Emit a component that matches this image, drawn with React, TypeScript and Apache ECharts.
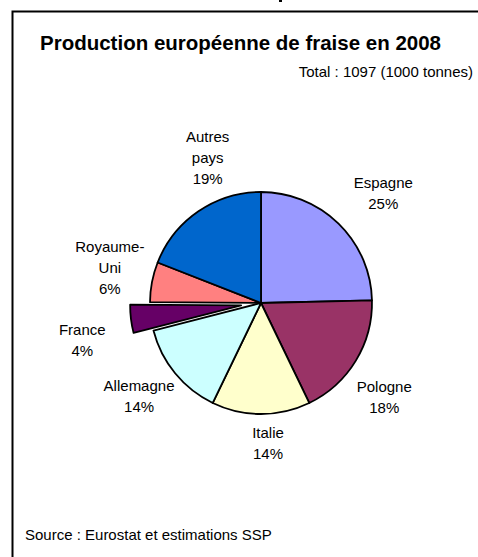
import React, { useEffect, useRef } from 'react';
import * as echarts from 'echarts';

// Data (1000 tonnes)
const categories = ['Espagne', 'Pologne', 'Italie', 'Allemagne', 'France', 'Royaume-Uni', 'Autres pays'];
const values = [270, 200, 157, 152, 45, 64, 209];
const colors = ['#9999FF', '#993366', '#FFFFCC', '#CCFFFF', '#660066', '#FF8080', '#0066CC'];
const explodedName = 'France';
const titleText = 'Production européenne de fraise en 2008';
const unitText = '1000 tonnes';
const sourceText = 'Source : Eurostat et estimations SSP';

// Layout constants
const CX = 261;
const CY = 303;
const R = 111;
const EXPLODE = 20;
const LABEL_R = 155;
const labelNudge = [[14, 1], [-9, 13], [7, -15], [-2, -5], [-5, 16], [1, -6], [34, -17]];
const FONT = "'Liberation Sans', Arial, sans-serif";
const BORDER = 1.8;

export default function App() {
  const ref = useRef<HTMLDivElement>(null);

  useEffect(() => {
    if (!ref.current) return;
    const chart = echarts.init(ref.current, undefined, { renderer: 'svg' });
    const total = values.reduce((a, b) => a + b, 0);
    let cum = 0;
    const mids = values.map((v) => {
      const m = ((cum + v / 2) / total) * 2 * Math.PI;
      cum += v;
      return m;
    });
    const explodedIndex = categories.indexOf(explodedName);
    const ea = mids[explodedIndex];
    const explodedCenter = [CX + EXPLODE * Math.sin(ea), CY - EXPLODE * Math.cos(ea)];

    const common = {
      type: 'pie',
      radius: R,
      startAngle: 90,
      clockwise: true,
      avoidLabelOverlap: false,
      emphasis: { disabled: true },
      labelLine: { show: false },
    };

    chart.setOption({
      animation: false,
      backgroundColor: '#fff',
      title: [
        {
          text: titleText,
          left: 40,
          top: 32,
          padding: 0,
          textStyle: { fontFamily: FONT, fontSize: 20.5, fontWeight: 'bold', color: '#000' },
        },
        {
          text: `Total : ${total} (${unitText})`,
          right: 5,
          top: 64,
          padding: 0,
          textStyle: { fontFamily: FONT, fontSize: 15, fontWeight: 'normal', color: '#000' },
        },
        {
          text: sourceText,
          left: 25,
          top: 527,
          padding: 0,
          textStyle: { fontFamily: FONT, fontSize: 15, fontWeight: 'normal', color: '#000' },
        },
      ],
      graphic: [
        {
          type: 'rect',
          shape: { x: 12.5, y: 11.5, width: 520, height: 600 },
          style: { fill: 'none', stroke: '#000', lineWidth: 2 },
          silent: true,
        },
        {
          type: 'rect',
          shape: { x: 279, y: 0, width: 3, height: 2 },
          style: { fill: '#000' },
          silent: true,
        },
      ],
      series: [
        {
          ...common,
          center: [CX, CY],
          label: {
            show: true,
            position: 'outside',
            fontFamily: FONT,
            fontSize: 15,
            color: '#000',
            lineHeight: 21,
            align: 'center',
            formatter: (p: any) =>
              `${String(p.name).replace('-', '-\n').replace(' ', '\n')}\n${Math.round((p.value / total) * 100)}%`,
          },
          labelLayout: (p: any) => {
            const i = p.dataIndex;
            const a = mids[i];
            const r = LABEL_R + (i === explodedIndex ? EXPLODE : 0);
            return {
              x: CX + r * Math.sin(a) + labelNudge[i][0],
              y: CY - r * Math.cos(a) + labelNudge[i][1],
              align: 'center',
              verticalAlign: 'middle',
            };
          },
          data: categories.map((name, i) => ({
            name,
            value: values[i],
            itemStyle:
              i === explodedIndex
                ? { color: 'rgba(0,0,0,0)', borderWidth: 0 }
                : { color: colors[i], borderColor: '#000', borderWidth: BORDER },
          })),
        },
        {
          ...common,
          center: explodedCenter,
          silent: true,
          label: { show: false },
          data: categories.map((name, i) => ({
            name,
            value: values[i],
            itemStyle:
              i === explodedIndex
                ? { color: colors[i], borderColor: '#000', borderWidth: BORDER }
                : { color: 'rgba(0,0,0,0)', borderWidth: 0 },
          })),
        },
      ],
    });
    return () => chart.dispose();
  }, []);

  return (
    <div
      ref={ref}
      style={{ position: 'absolute', left: 0, top: 0, width: 478, height: 557, background: '#fff' }}
    />
  );
}
